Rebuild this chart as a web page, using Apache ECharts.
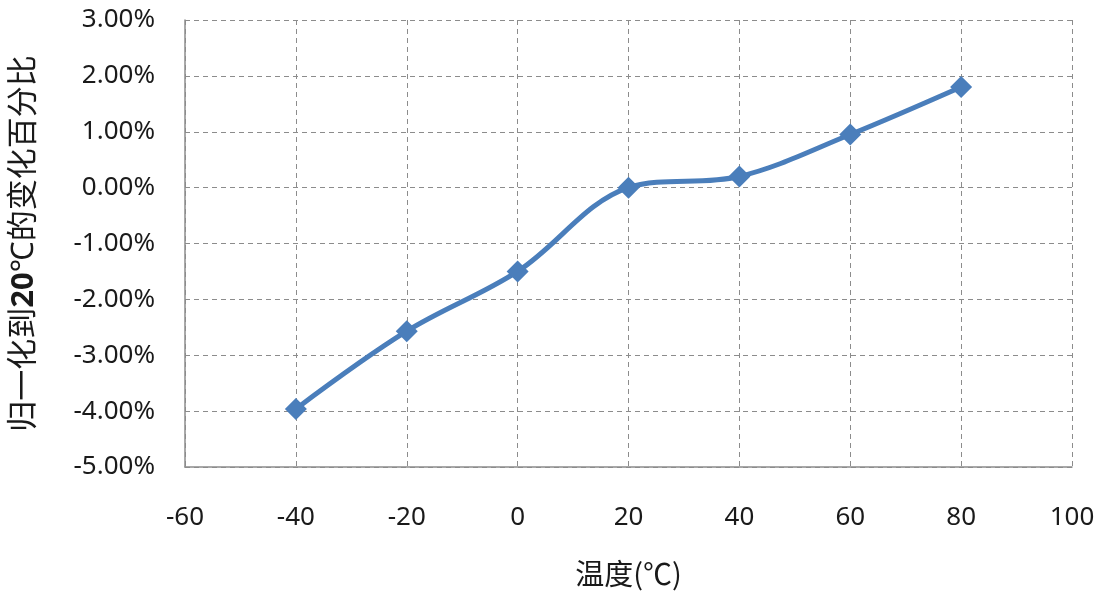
<!DOCTYPE html>
<html>
<head>
<meta charset="utf-8">
<script src="https://cdn.jsdelivr.net/npm/echarts@6/dist/echarts.min.js"></script>
<style>html,body{margin:0;padding:0;background:#fff;}#c{width:1102px;height:596px;}</style>
</head>
<body>
<div id="c"></div>
<script>
const temps = [-40, -20, 0, 20, 40, 60, 80];
const pctChange = [-3.96, -2.57, -1.50, 0.00, 0.20, 0.95, 1.80];
const xTitle = '温度(℃)';
const yTitle = '归一化到{b|20}℃的变化百分比';

const chart = echarts.init(document.getElementById('c'));
const font = '"Noto Sans", "Noto Sans CJK SC", sans-serif';
const cjkFont = '"Noto Sans CJK SC", "Noto Sans", sans-serif';
const gridLine = {show: true, lineStyle: {color: '#8c8c8c', type: [5, 4], width: 1}};
chart.setOption({
  animation: false,
  backgroundColor: '#fff',
  grid: {left: 185, right: 30, top: 20, bottom: 129, containLabel: false, outerBoundsMode: 'none'},
  xAxis: {
    type: 'value', min: -60, max: 100, interval: 20,
    axisLine: {show: true, onZero: false, lineStyle: {color: '#8c8c8c', width: 1.5}},
    axisTick: {show: false},
    splitLine: gridLine,
    axisLabel: {color: '#1a1a1a', fontSize: 26, fontFamily: font, margin: 38},
    name: xTitle, nameLocation: 'middle', nameGap: 92,
    nameTextStyle: {color: '#1a1a1a', fontSize: 29, fontFamily: cjkFont}
  },
  yAxis: {
    type: 'value', min: -5, max: 3, interval: 1,
    axisLine: {show: true, onZero: false, lineStyle: {color: '#8c8c8c', width: 1.5}},
    axisTick: {show: false},
    splitLine: gridLine,
    axisLabel: {color: '#1a1a1a', fontSize: 26, fontFamily: font, margin: 30,
      formatter: v => v.toFixed(2) + '%'},
    name: yTitle, nameLocation: 'middle', nameGap: 145, nameRotate: 90,
    nameTextStyle: {color: '#1a1a1a', fontSize: 31, fontFamily: font,
      rich: {b: {fontWeight: 'bold', fontSize: 31, fontFamily: font, color: '#1a1a1a'}}}
  },
  series: [{
    type: 'line',
    data: temps.map((t, i) => [t, pctChange[i]]),
    smooth: 0.35,
    symbol: 'diamond', symbolSize: 22,
    lineStyle: {color: '#4a7ebb', width: 5},
    itemStyle: {color: '#4a7ebb'}
  }]
});
</script>
</body>
</html>
